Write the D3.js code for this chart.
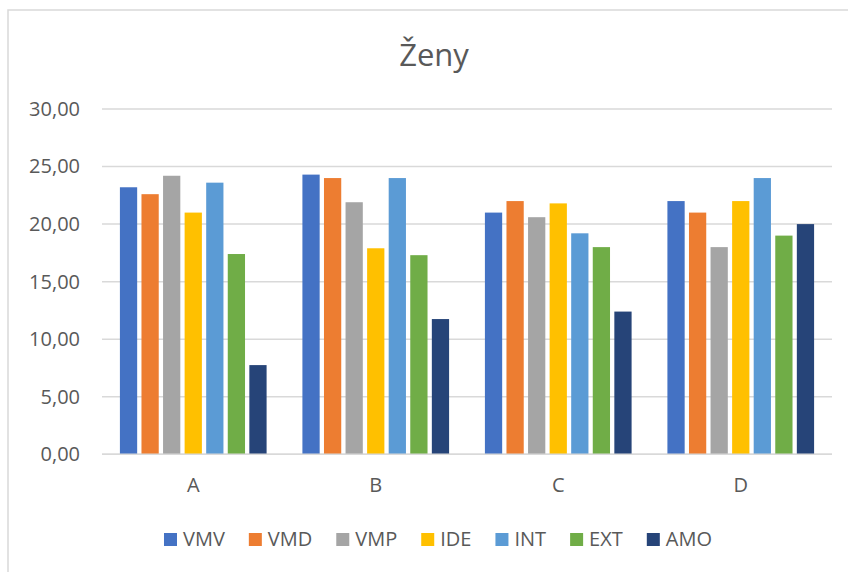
<!DOCTYPE html>
<html><head><meta charset="utf-8">
<script src="https://cdn.jsdelivr.net/npm/d3@7"></script>
<style>body{margin:0;background:#fff;} svg{display:block;font-family:"Open Sans",sans-serif;}</style>
</head><body>
<svg id="c" width="848" height="572"></svg>
<script>
const categories = ["A","B","C","D"];
const seriesNames = ["VMV","VMD","VMP","IDE","INT","EXT","AMO"];
const VMV = [23.2, 24.3, 21.0, 22.0];
const VMD = [22.6, 24.0, 22.0, 21.0];
const VMP = [24.2, 21.9, 20.6, 18.0];
const IDE = [21.0, 17.9, 21.8, 22.0];
const INT = [23.6, 24.0, 19.2, 24.0];
const EXT = [17.4, 17.3, 18.0, 19.0];
const AMO = [7.75, 11.75, 12.4, 20.0];
const yTicks = [0,5,10,15,20,25,30];
const colors = ["#4472C4","#ED7D31","#A5A5A5","#FFC000","#5B9BD5","#70AD47","#264478"];
const seriesValues = [VMV,VMD,VMP,IDE,INT,EXT,AMO];

(function(){
const svg = d3.select("#c");
svg.append("rect").attr("x",8).attr("y",10).attr("width",860).attr("height",580)
  .attr("fill","none").attr("stroke","#d9d9d9").attr("stroke-width",1.5);

const pL=102, pR=832, pT=109, pB=454.3;
const y = d3.scaleLinear().domain([0,30]).range([pB, pT]);
const x0 = d3.scaleBand().domain(categories).range([pL,pR]).padding(0);
const x1 = d3.scaleBand().domain(seriesNames).range([0,x0.bandwidth()]).paddingInner(0.2).paddingOuter(0.83);
const color = d3.scaleOrdinal().domain(seriesNames).range(colors);

svg.append("g").selectAll("line").data(yTicks).join("line")
  .attr("x1",pL).attr("x2",pR).attr("y1",d=>y(d)).attr("y2",d=>y(d))
  .attr("stroke","#d9d9d9").attr("stroke-width",1.5);

const fmt = d => d3.format(".2f")(d).replace(".",",");
const yAxis = d3.axisLeft(y).tickValues(yTicks).tickFormat(fmt).tickSize(0).tickPadding(0);
const gy = svg.append("g").attr("transform","translate(80,0)").call(yAxis);
gy.select(".domain").remove();
gy.selectAll("text").attr("fill","#595959").style("font-size","20px").style("font-family","'Open Sans',sans-serif");

const groups = svg.append("g").selectAll("g").data(categories).join("g")
  .attr("transform",d=>`translate(${x0(d)},0)`);
groups.selectAll("rect").data((c,i)=>seriesNames.map((s,j)=>({s, v: seriesValues[j][i]}))).join("rect")
  .attr("x",d=>x1(d.s)).attr("width",x1.bandwidth())
  .attr("y",d=>y(d.v)).attr("height",d=>y(0)-y(d.v))
  .attr("fill",d=>color(d.s));

svg.append("line").attr("x1",pL).attr("x2",pR).attr("y1",y(0)).attr("y2",y(0))
  .attr("stroke","#d9d9d9").attr("stroke-width",1.5);

const xAxis = d3.axisBottom(x0).tickSize(0).tickPadding(0);
const gx = svg.append("g").attr("transform",`translate(0,${y(0)+23})`).call(xAxis);
gx.select(".domain").remove();
gx.selectAll("text").attr("fill","#595959").style("font-size","20px").style("font-family","'Open Sans',sans-serif");

svg.append("text").attr("x",434).attr("y",66).attr("text-anchor","middle")
  .attr("fill","#595959").style("font-size","31px").text("Ženy");

const leg = svg.append("g");
let cx = 0;
const gap = 24;
seriesNames.forEach((s,i)=>{
  const g = leg.append("g").attr("transform",`translate(${cx},0)`);
  g.append("rect").attr("x",0).attr("y",-13).attr("width",13).attr("height",13).attr("fill",colors[i]);
  const t = g.append("text").attr("x",19).attr("y",0).attr("fill","#595959").style("font-size","20px").text(s);
  cx += 19 + t.node().getComputedTextLength() + gap;
});
const total = cx - gap;
leg.attr("transform",`translate(${438 - total/2},546)`);
})();
</script>
</body></html>
